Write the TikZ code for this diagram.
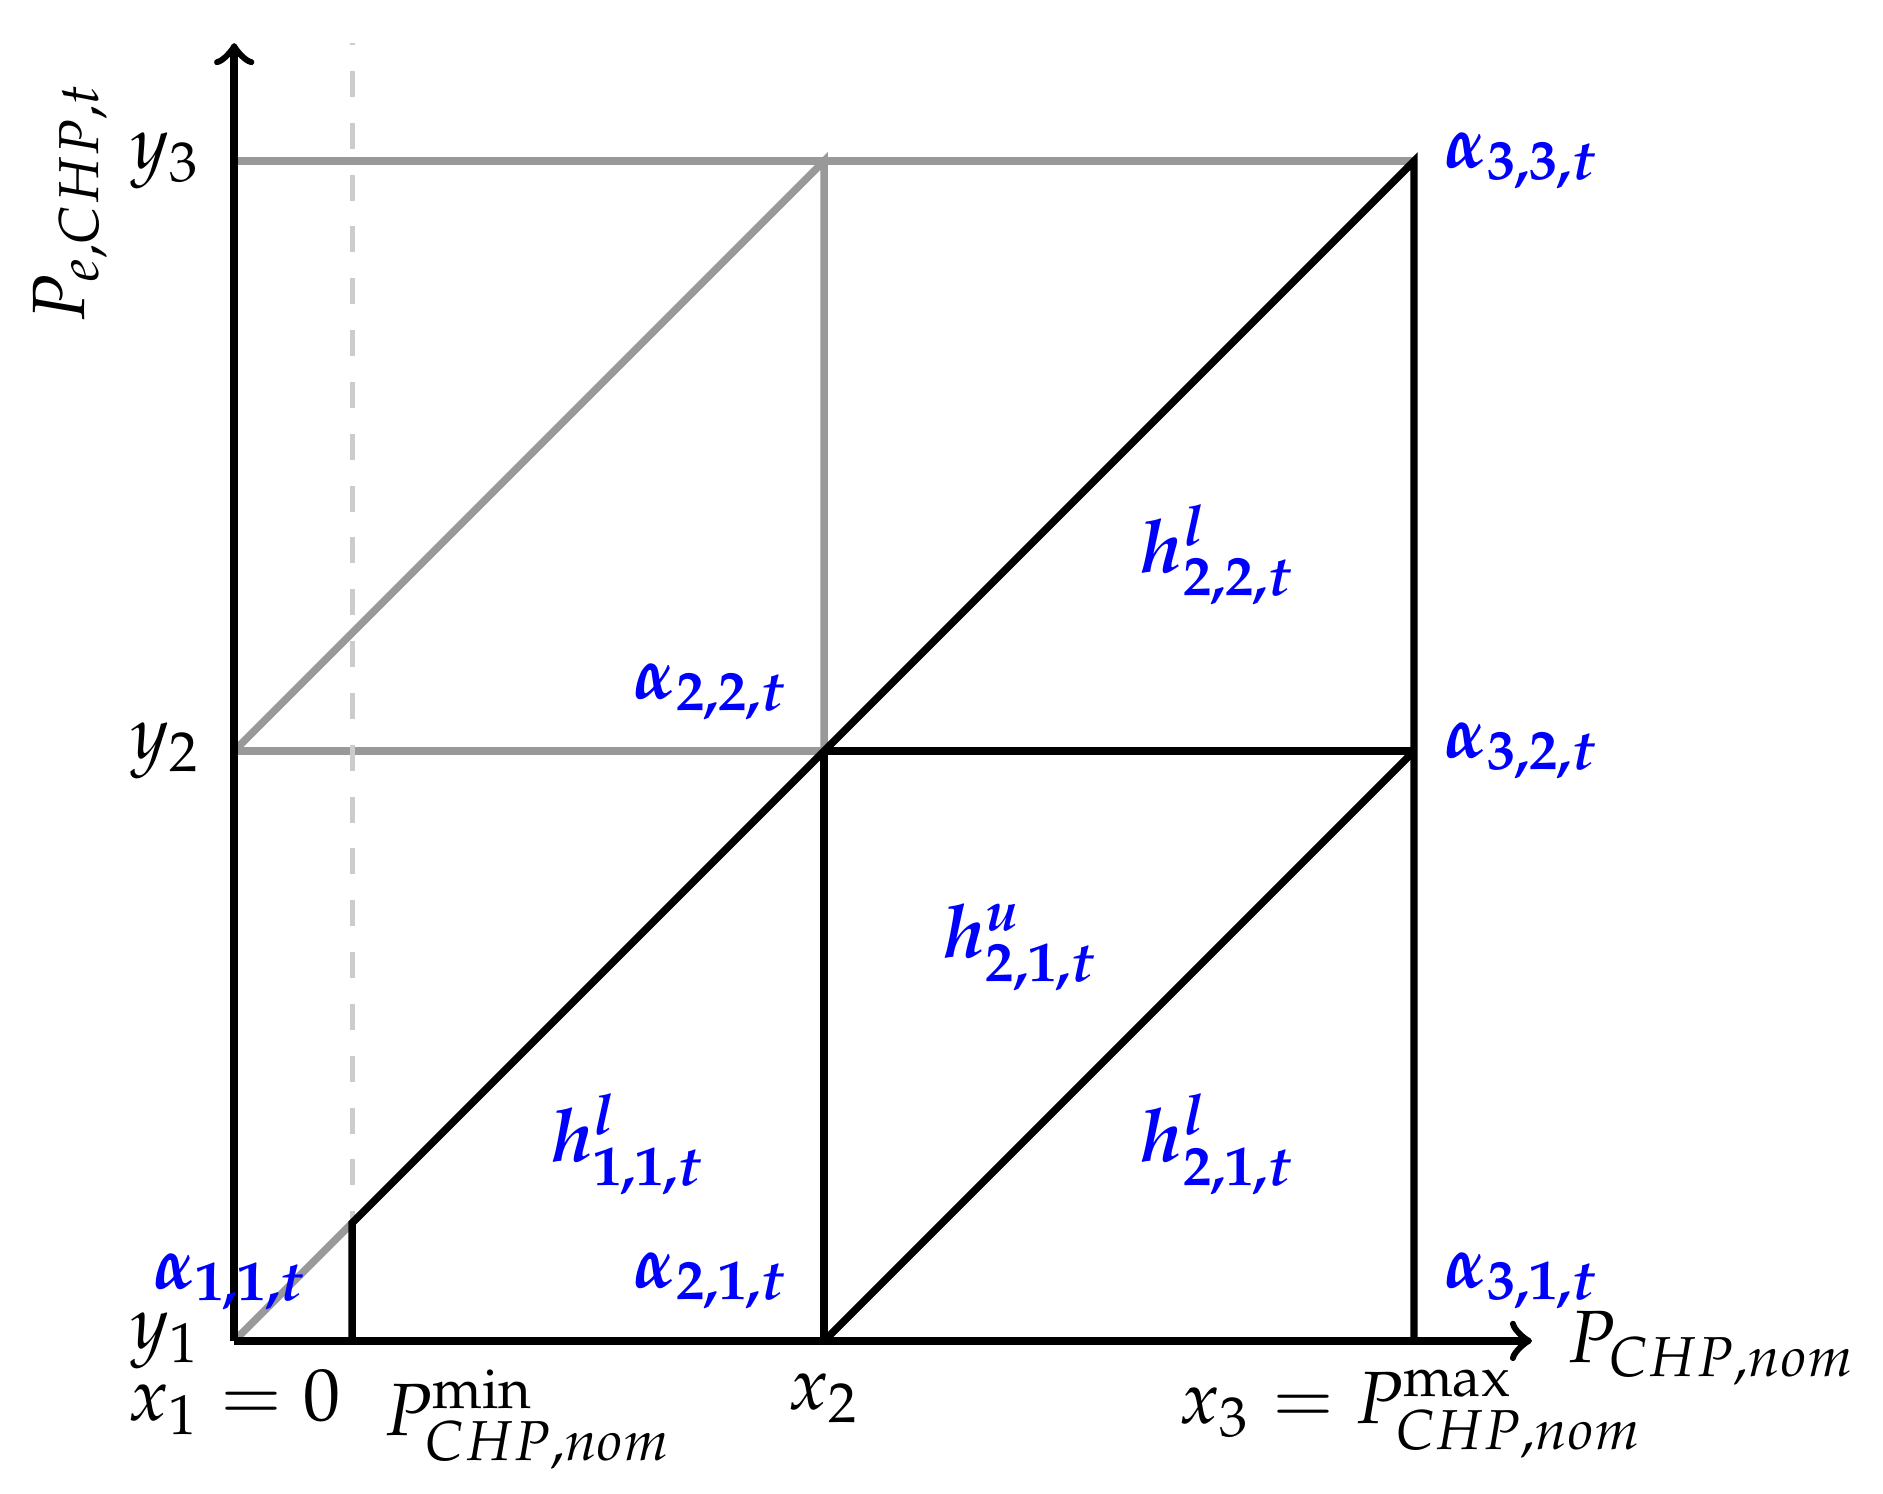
\documentclass[tikz,border=0pt]{standalone}
\usepackage{mathpazo}
\usepackage{bm}
\begin{document}
\begin{tikzpicture}[x=2.8cm,y=2.8cm,
  grayline/.style={draw=black!40,line width=1pt},
  blackline/.style={draw=black,line width=1pt},
  dashline/.style={draw=black!20,line width=0.7pt,dash pattern=on 3.5pt off 3.5pt},
  axisline/.style={draw=black,line width=1pt,->},
  bluelab/.style={text=blue,inner sep=0pt},
  plainlab/.style={inner sep=0pt}]
\useasboundingbox (-0.397,-0.259) rectangle (2.795,2.273);
% coordinates
\coordinate (O) at (0,0);
\coordinate (PM) at (0.2,0);
\coordinate (PMt) at (0.2,0.2);
\coordinate (PMtop) at (0.2,2.2);
\coordinate (X2) at (1,0);
\coordinate (X3) at (2,0);
\coordinate (Y2) at (0,1);
\coordinate (Y3) at (0,2);
\coordinate (A22) at (1,1);
\coordinate (A32) at (2,1);
\coordinate (A23) at (1,2);
\coordinate (A33) at (2,2);
\coordinate (XE) at (2.2,0);
\coordinate (YE) at (0,2.2);
% gray grid
\draw[grayline] (Y3) -- (A33);
\draw[grayline] (Y2) -- (A22);
\draw[grayline] (Y2) -- (A23) -- (A22);
\draw[grayline] (O) -- (PMt);
\draw[dashline] (PM) -- (PMtop);
% black
\draw[blackline] (PM) -- (PMt) -- (A22) -- (A33) -- (X3);
\draw[blackline] (A22) -- (A32);
\draw[blackline] (X2) -- (A22);
\draw[blackline] (X2) -- (A32);
\draw[axisline] (O) -- (XE);
\draw[axisline] (O) -- (YE);
% axis labels
\node[plainlab] (xl) at (2.505,-0.012) {$P_{CHP,nom}$};
\node[plainlab,rotate=90] (yl) at (-0.278,1.93) {$P_{e,CHP,t}$};
\node[plainlab] (y1) at (-0.116,0) {$y_1$};
\node[plainlab] (y2) at (-0.116,1) {$y_2$};
\node[plainlab] (y3) at (-0.116,2) {$y_3$};
\node[plainlab] (x1) at (0,-0.104) {$x_1=0$};
\node[plainlab] (pmin) at (0.499,-0.134) {$P^{\mathrm{min}}_{CHP,nom}$};
\node[plainlab] (x2) at (1,-0.098) {$x_2$};
\node[plainlab] (x3) at (1.996,-0.124) {$x_3=P^{\mathrm{max}}_{CHP,nom}$};
% blue labels
\node[bluelab] (a11) at (-0.006,0.10) {$\bm{\alpha_{1,1,t}}$};
\node[bluelab] (a21) at (0.809,0.102) {$\bm{\alpha_{2,1,t}}$};
\node[bluelab] (a31) at (2.183,0.102) {$\bm{\alpha_{3,1,t}}$};
\node[bluelab] (a22) at (0.809,1.10) {$\bm{\alpha_{2,2,t}}$};
\node[bluelab] (a32) at (2.183,1.0) {$\bm{\alpha_{3,2,t}}$};
\node[bluelab] (a33) at (2.183,2.0) {$\bm{\alpha_{3,3,t}}$};
\node[bluelab] (h22) at (1.667,1.333) {$\bm{h^{l}_{2,2,t}}$};
\node[bluelab] (h21u) at (1.333,0.667) {$\bm{h^{u}_{2,1,t}}$};
\node[bluelab] (h21) at (1.667,0.333) {$\bm{h^{l}_{2,1,t}}$};
\node[bluelab] (h11) at (0.667,0.333) {$\bm{h^{l}_{1,1,t}}$};
\end{tikzpicture}
\end{document}
